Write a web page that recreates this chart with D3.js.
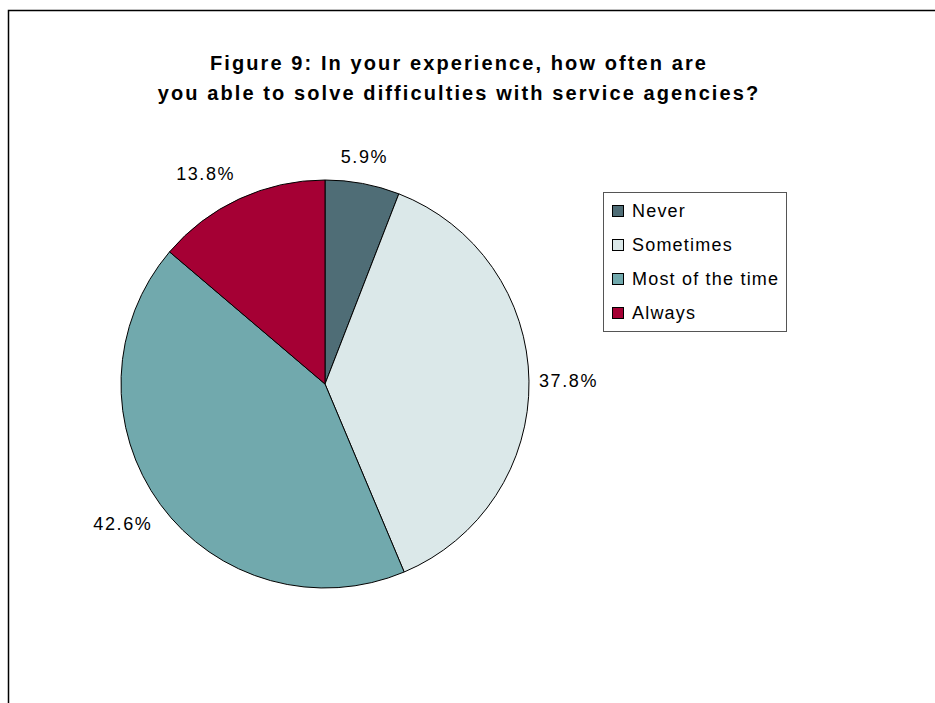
<!DOCTYPE html>
<html>
<head>
<meta charset="utf-8">
<script src="https://cdn.jsdelivr.net/npm/d3@7"></script>
<style>
body{margin:0;background:#fff}
text{font-family:"Liberation Sans",Arial,sans-serif}
</style>
</head>
<body>
<div id="chart"></div>
<script>
var categories = ["Never","Sometimes","Most of the time","Always"]
var values = [5.9,37.8,42.6,13.8]
var colors = ["#4F6D76","#DBE8E9","#71A9AD","#A50034"]
var titleLines = ["Figure 9: In your experience, how often are","you able to solve difficulties with service agencies?"]

var width = 935, height = 703
var svg = d3.select("#chart").append("svg").attr("width",width).attr("height",height)

// outer frame (right and bottom edges fall outside the picture)
svg.append("rect").attr("x",8.5).attr("y",10.5).attr("width",1000).attr("height",1000)
    .attr("fill","none").attr("stroke","#000").attr("stroke-width",1.5)

svg.selectAll(".title")
    .data(titleLines)
    .enter()
    .append("text")
    .text(function(d){return d})
    .attr("x",459)
    .attr("y",function(d,i){return 70+i*30})
    .attr("text-anchor","middle")
    .attr("font-size",20)
    .attr("font-weight","bold")
    .attr("letter-spacing",2.1)

var cx = 325, cy = 384, r = 204
var pie = d3.pie().sort(null).value(function(d){return d})
var arcs = pie(values)
var arc = d3.arc().innerRadius(0).outerRadius(r)
var g = svg.append("g").attr("transform","translate("+cx+","+cy+")")

g.selectAll(".slice")
    .data(arcs)
    .enter()
    .append("path")
    .attr("d",arc)
    .attr("fill",function(d,i){return colors[i]})
    .attr("stroke","#000")
    .attr("stroke-width",1)

// labels: anchor just past the edge, box hangs off the anchor on the outer side
var labels = g.selectAll(".lbl")
    .data(arcs)
    .enter()
    .append("text")
    .text(function(d){return d.data.toFixed(1)+"%"})
    .attr("font-size",18)
    .attr("letter-spacing",1.6)
    .attr("text-anchor","middle")
labels.each(function(d){
    var bb = this.getBBox()
    var a = (d.startAngle+d.endAngle)/2
    var s = Math.sin(a), c = -Math.cos(a)
    var ax = (r+10)*s, ay = (r+20)*c
    var dx = Math.abs(s)>0.3 ? Math.sign(s)*bb.width/2 : 0
    var dy = Math.abs(c)>0.3 ? Math.sign(c)*7 : c/0.3*7
    d3.select(this).attr("x",ax+dx).attr("y",ay+dy+6.5)
})

// legend
var legend = svg.append("g")
legend.append("rect").attr("x",603.5).attr("y",192.5).attr("width",183).attr("height",139)
    .attr("fill","#fff").attr("stroke","#555").attr("stroke-width",1)
var items = legend.selectAll(".item")
    .data(categories)
    .enter()
    .append("g")
    .attr("transform",function(d,i){return "translate(0,"+(217+i*34)+")"})
items.append("rect").attr("x",612.5).attr("y",-11.5).attr("width",11).attr("height",11)
    .attr("fill",function(d,i){return colors[i]}).attr("stroke","#000").attr("stroke-width",1)
items.append("text").text(function(d){return d}).attr("x",632).attr("y",0)
    .attr("font-size",18).attr("letter-spacing",1.2)
</script>
</body>
</html>
